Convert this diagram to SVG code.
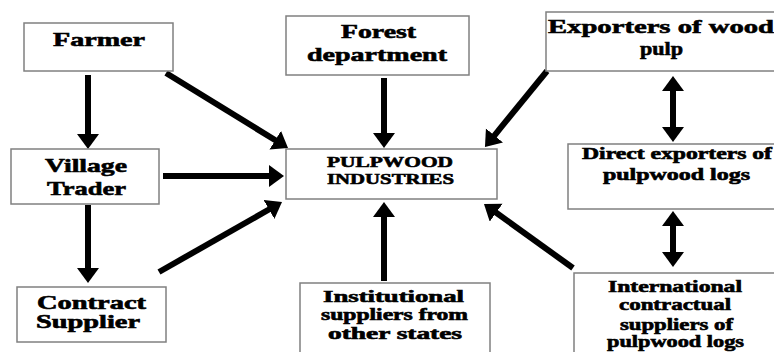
<svg xmlns="http://www.w3.org/2000/svg" width="774" height="352" viewBox="0 0 774 352">
<style>
.box{fill:#fff;stroke:#808080;stroke-width:1.5}
.t{font-family:"Liberation Serif","Times New Roman",serif;font-weight:bold;fill:#000;stroke:#000;stroke-width:0.6}
.a{stroke:#000;stroke-width:6;fill:none;marker-end:url(#h)}
.d{stroke:#000;stroke-width:6;fill:none;marker-end:url(#h);marker-start:url(#hs)}
</style>
<defs>
<marker id="h" markerUnits="userSpaceOnUse" markerWidth="16" markerHeight="23" refX="5" refY="11" orient="auto" viewBox="0 0 16 23">
<path d="M0,0 L15,11 L0,22 z" fill="#000"/>
</marker>
<marker id="hs" markerUnits="userSpaceOnUse" markerWidth="16" markerHeight="23" refX="5" refY="11" orient="auto-start-reverse" viewBox="0 0 16 23">
<path d="M0,0 L15,11 L0,22 z" fill="#000"/>
</marker>
</defs>
<rect width="774" height="352" fill="#fff"/>
<g id="connectors">
<line class="a" x1="88" y1="75" x2="88" y2="139"/>
<line class="a" x1="88" y1="205" x2="88" y2="273"/>
<line class="a" x1="384" y1="78" x2="384" y2="138"/>
<line class="a" x1="384" y1="281" x2="384" y2="212"/>
<line class="a" x1="163" y1="176" x2="274" y2="176"/>
<line class="a" x1="166" y1="73" x2="279.5" y2="142.8"/>
<line class="a" x1="159" y1="272" x2="273.3" y2="207"/>
<line class="a" x1="547" y1="71" x2="491.3" y2="139.3"/>
<line class="a" x1="573" y1="268" x2="492.1" y2="209.8"/>
<line class="d" x1="673" y1="86" x2="673" y2="132"/>
<line class="d" x1="673" y1="221" x2="673" y2="257"/>
</g>
<g id="farmer">
<rect class="box" x="24" y="23" width="149" height="48"/>
<text class="t" x="53" y="46" font-size="19" textLength="92" lengthAdjust="spacingAndGlyphs">Farmer</text>
</g>
<g id="village-trader">
<rect class="box" x="11" y="149" width="148" height="55"/>
<text class="t" x="45" y="172" font-size="19" textLength="82" lengthAdjust="spacingAndGlyphs">Village</text>
<text class="t" x="47" y="195" font-size="19" textLength="79" lengthAdjust="spacingAndGlyphs">Trader</text>
</g>
<g id="contract-supplier">
<rect class="box" x="17" y="287" width="149" height="55"/>
<text class="t" x="37" y="309" font-size="18" textLength="109" lengthAdjust="spacingAndGlyphs">Contract</text>
<text class="t" x="36" y="328" font-size="18" textLength="104" lengthAdjust="spacingAndGlyphs">Supplier</text>
</g>
<g id="forest-department">
<rect class="box" x="286" y="16" width="183" height="59"/>
<text class="t" x="341" y="38" font-size="19" textLength="75" lengthAdjust="spacingAndGlyphs">Forest</text>
<text class="t" x="307" y="61" font-size="19" textLength="140" lengthAdjust="spacingAndGlyphs">department</text>
</g>
<g id="pulpwood-industries">
<rect class="box" x="286" y="149" width="211" height="50"/>
<text class="t" x="327" y="167" font-size="15" textLength="126" lengthAdjust="spacingAndGlyphs">PULPWOOD</text>
<text class="t" x="327" y="184" font-size="15" textLength="127" lengthAdjust="spacingAndGlyphs">INDUSTRIES</text>
</g>
<g id="exporters-wood-pulp">
<rect class="box" x="546" y="12" width="240" height="59"/>
<text class="t" x="548" y="33" font-size="19" textLength="226" lengthAdjust="spacingAndGlyphs">Exporters of wood</text>
<text class="t" x="640" y="55" font-size="19" textLength="43" lengthAdjust="spacingAndGlyphs">pulp</text>
</g>
<g id="direct-exporters">
<rect class="box" x="568" y="144" width="220" height="65"/>
<text class="t" x="582" y="159" font-size="16" textLength="190" lengthAdjust="spacingAndGlyphs">Direct exporters of</text>
<text class="t" x="603" y="180" font-size="16" textLength="147" lengthAdjust="spacingAndGlyphs">pulpwood logs</text>
</g>
<g id="institutional-suppliers">
<rect class="box" x="300" y="283" width="190" height="80"/>
<text class="t" x="323" y="302" font-size="16" textLength="141" lengthAdjust="spacingAndGlyphs">Institutional</text>
<text class="t" x="321" y="320" font-size="16" textLength="147" lengthAdjust="spacingAndGlyphs">suppliers from</text>
<text class="t" x="328" y="339" font-size="16" textLength="134" lengthAdjust="spacingAndGlyphs">other states</text>
</g>
<g id="international-suppliers">
<rect class="box" x="574" y="273" width="220" height="90"/>
<text class="t" x="608" y="292" font-size="16" textLength="134" lengthAdjust="spacingAndGlyphs">International</text>
<text class="t" x="619" y="310" font-size="16" textLength="112" lengthAdjust="spacingAndGlyphs">contractual</text>
<text class="t" x="620" y="330" font-size="16" textLength="113" lengthAdjust="spacingAndGlyphs">suppliers of</text>
<text class="t" x="607" y="347" font-size="16" textLength="137" lengthAdjust="spacingAndGlyphs">pulpwood logs</text>
</g>
</svg>
